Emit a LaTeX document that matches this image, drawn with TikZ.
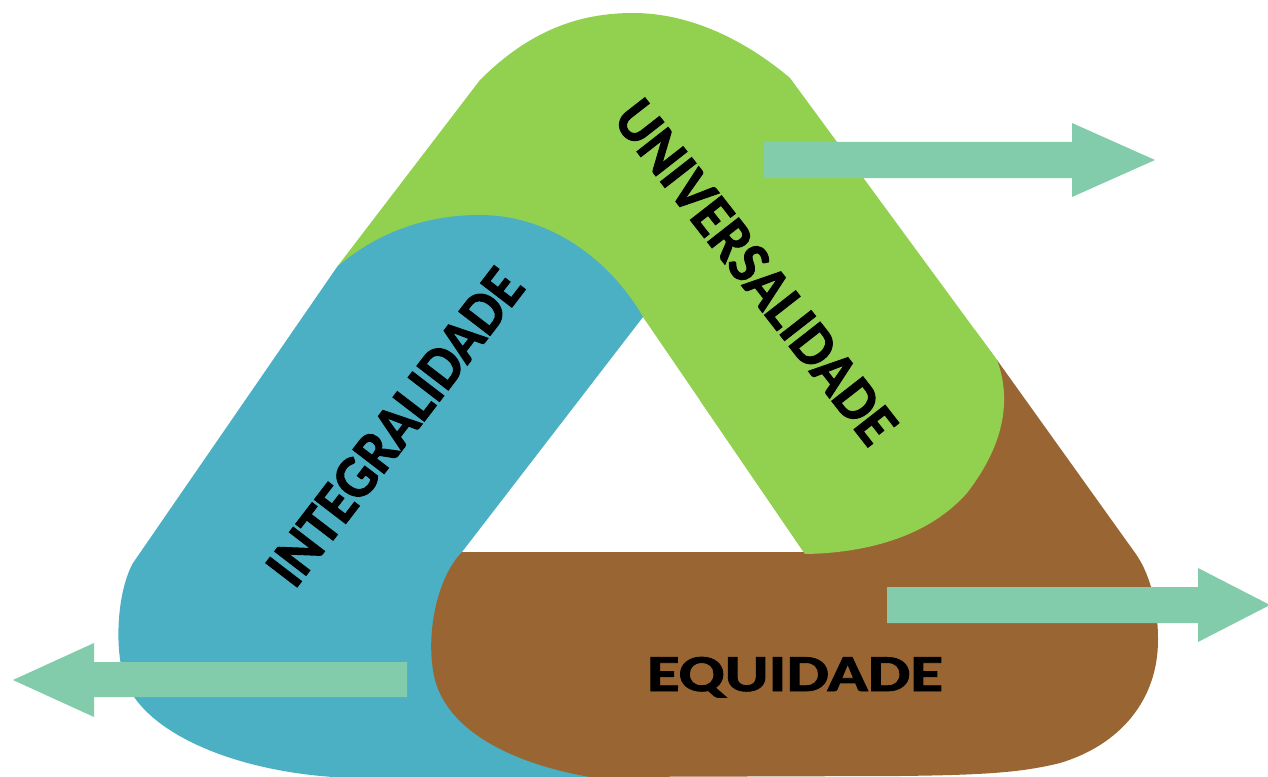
\documentclass[tikz,border=0pt]{standalone}
\usepackage{fontspec}
\setmainfont{Carlito}
\newfontfamily\lblfont{Carlito}[BoldFeatures={FakeBold=1.6}]
\usepackage{graphicx}
\definecolor{grn}{HTML}{92D050}
\definecolor{blu}{HTML}{4BB0C4}
\definecolor{brn}{HTML}{996633}
\definecolor{arw}{HTML}{82CCAB}
\tikzset{
  band/.style={draw=none},
  bigarrow/.style={fill=arw, draw=none},
  lbl/.style={inner sep=0pt, font=\lblfont\bfseries, text=black}
}
\begin{document}
\begin{tikzpicture}[x=0.02cm,y=-0.02cm]
\useasboundingbox (0,0) rectangle (1268,777);
\clip (0,0) rectangle (1268,777);
% green band (universalidade)
\fill[grn, band] (337,267) -- (480,80) .. controls (530,30) and (580,13) .. (633,13)
  .. controls (690,13) and (745,40) .. (790,78) -- (997,360)
  .. controls (1010,395) and (1008,440) .. (967,493)
  .. controls (930,535) and (870,553) .. (805,554)
  -- (643,317) -- (480,300) -- cycle;
% blue band (integralidade)
\fill[blu, band] (337,267) .. controls (380,230) and (430,215) .. (480,215)
  .. controls (550,215) and (610,260) .. (643,317)
  -- (462,552) -- (520,640) -- (600,777) -- (333,777)
  .. controls (230,770) and (135,730) .. (122,670)
  .. controls (115,640) and (118,590) .. (133,563) -- cycle;
% brown band (equidade)
\fill[brn, band] (462,552) -- (807,552) -- (997,360) -- (1133,550)
  .. controls (1150,572) and (1158,605) .. (1158,640)
  .. controls (1158,700) and (1120,745) .. (1060,763)
  .. controls (1020,773) and (980,775) .. (900,776)
  -- (590,777)
  .. controls (520,765) and (450,735) .. (435,680)
  .. controls (425,640) and (435,580) .. (462,552) -- cycle;
% green end over brown
\begin{scope}
\clip (700,330) rectangle (1268,777);
\fill[grn, band] (337,267) -- (480,80) .. controls (530,30) and (580,13) .. (633,13)
  .. controls (690,13) and (745,40) .. (790,78) -- (997,360)
  .. controls (1010,395) and (1008,440) .. (967,493)
  .. controls (930,535) and (870,553) .. (805,554)
  -- (643,317) -- (480,300) -- cycle;
\end{scope}
% arrows
\fill[bigarrow] (764,142) -- (1072,142) -- (1072,123) -- (1155,160) -- (1072,197) -- (1072,178) -- (764,178) -- cycle;
\fill[bigarrow] (887,587) -- (1198,587) -- (1198,568) -- (1270,605) -- (1198,642) -- (1198,623) -- (887,623) -- cycle;
\fill[bigarrow] (407,662) -- (94,662) -- (94,643) -- (13,680) -- (94,717) -- (94,697) -- (407,697) -- cycle;
% labels
\node[lbl, rotate=-52] (univ) at (756,272) {\resizebox{8.36cm}{0.8cm}{UNIVERSALIDADE}};
\node[lbl, rotate=52.5] (integ) at (395,427) {\resizebox{7.62cm}{0.8cm}{INTEGRALIDADE}};
\node[lbl, anchor=base] (equi) at (795,691) {\resizebox{5.92cm}{0.68cm}{EQUIDADE}};
\end{tikzpicture}
\end{document}
